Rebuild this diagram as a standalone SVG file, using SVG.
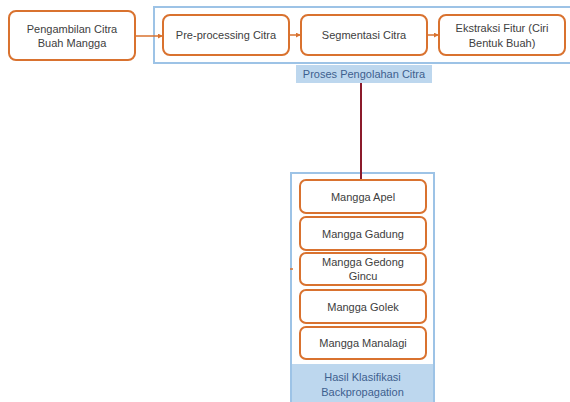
<svg xmlns="http://www.w3.org/2000/svg" width="570" height="402" viewBox="0 0 570 402">
<defs>
<style>
.box{fill:#fff;stroke:#d9722f;stroke-width:2}
.frame{fill:none;stroke:#9dc3e6;stroke-width:2}
.lbg{fill:#bdd7ee}
.t{font-family:"Liberation Sans",Arial,sans-serif;font-size:11px;fill:#404040;text-anchor:middle}
.lt{font-family:"Liberation Sans",Arial,sans-serif;font-size:11px;fill:#3d5f8f;text-anchor:middle}
.c{stroke:#d9722f;stroke-width:1.5;fill:none}
</style>
<marker id="ah" viewBox="0 0 6 6" refX="5" refY="3" markerWidth="5" markerHeight="5" orient="auto" markerUnits="userSpaceOnUse">
<path d="M0,0 L6,3 L0,6 Z" fill="#d9722f"/>
</marker>
</defs>
<rect width="570" height="402" fill="#fff"/>
<g id="frame-proses">
<rect class="frame" x="154" y="7" width="420" height="56"/>
<rect class="lbg" x="296" y="65" width="136" height="18"/>
<text class="lt" x="364" y="78">Proses Pengolahan Citra</text>
</g>
<g id="frame-hasil">
<rect class="lbg" x="290" y="364" width="145" height="38"/>
<rect class="frame" x="291" y="173" width="143" height="240"/>
<text class="lt" x="362.5" y="381">Hasil Klasifikasi</text>
<text class="lt" x="362.5" y="396">Backpropagation</text>
</g>
<g id="connectors">
<line class="c" x1="135" y1="36" x2="162" y2="36" marker-end="url(#ah)"/>
<line class="c" x1="289" y1="35" x2="300" y2="35" marker-end="url(#ah)"/>
<line class="c" x1="427" y1="35" x2="438" y2="35" marker-end="url(#ah)"/>
<line x1="361" y1="83" x2="361" y2="180" stroke="#8b1a2b" stroke-width="2"/>
<line x1="290" y1="269" x2="293" y2="269" stroke="#d9722f" stroke-width="1.5"/>
</g>
<g id="n-pengambilan">
<rect class="box" x="9" y="11" width="126" height="49" rx="7"/>
<text class="t" x="72" y="33">Pengambilan Citra</text>
<text class="t" x="72" y="47">Buah Mangga</text>
</g>
<g id="n-preprocessing">
<rect class="box" x="163" y="15" width="126" height="40" rx="7"/>
<text class="t" x="226" y="39">Pre-processing Citra</text>
</g>
<g id="n-segmentasi">
<rect class="box" x="301" y="15" width="126" height="40" rx="7"/>
<text class="t" x="364" y="39">Segmentasi Citra</text>
</g>
<g id="n-ekstraksi">
<rect class="box" x="439" y="15" width="126" height="40" rx="7"/>
<text class="t" x="502" y="32">Ekstraksi Fitur (Ciri</text>
<text class="t" x="502" y="47">Bentuk Buah)</text>
</g>
<g id="n-apel">
<rect class="box" x="300" y="180" width="126" height="33" rx="6"/>
<text class="t" x="363" y="201">Mangga Apel</text>
</g>
<g id="n-gadung">
<rect class="box" x="300" y="217" width="126" height="33" rx="6"/>
<text class="t" x="363" y="238">Mangga Gadung</text>
</g>
<g id="n-gedong">
<rect class="box" x="300" y="253" width="126" height="32" rx="6"/>
<text class="t" x="363" y="266">Mangga Gedong</text>
<text class="t" x="363" y="280">Gincu</text>
</g>
<g id="n-golek">
<rect class="box" x="300" y="290" width="126" height="33" rx="6"/>
<text class="t" x="363" y="311">Mangga Golek</text>
</g>
<g id="n-manalagi">
<rect class="box" x="300" y="327" width="126" height="32" rx="6"/>
<text class="t" x="363" y="347">Mangga Manalagi</text>
</g>
</svg>
